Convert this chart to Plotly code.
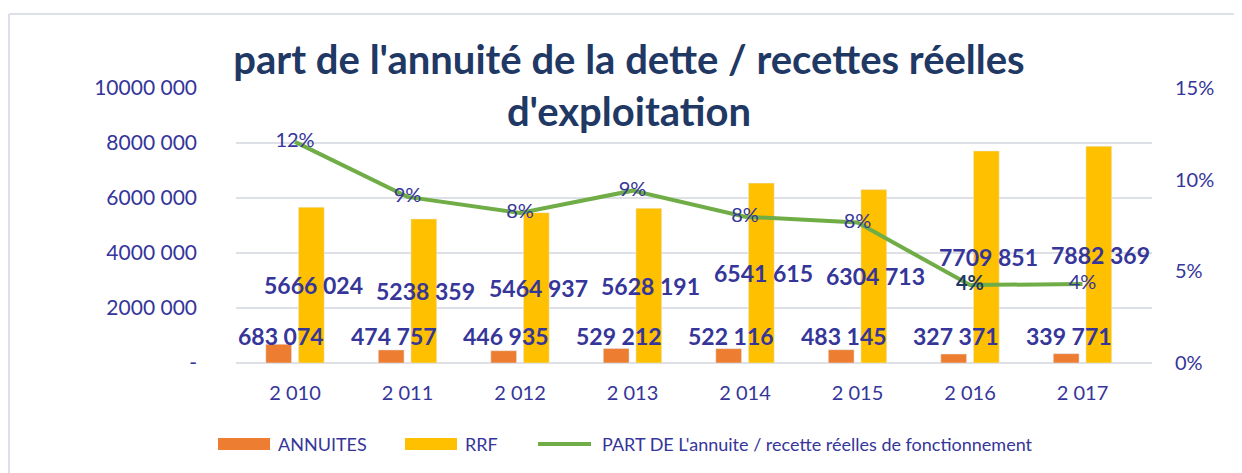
import plotly.graph_objects as go

years = ["2 010", "2 011", "2 012", "2 013", "2 014", "2 015", "2 016", "2 017"]
annuites = [683074, 474757, 446935, 529212, 522116, 483145, 327371, 339771]
rrf = [5666024, 5238359, 5464937, 5628191, 6541615, 6304713, 7709851, 7882369]
part = [0.1206, 0.0906, 0.0818, 0.0940, 0.0798, 0.0766, 0.0425, 0.0431]

left_tickvals = [0, 2000000, 4000000, 6000000, 8000000, 10000000]
left_ticktext = ["-", "2000 000", "4000 000", "6000 000", "8000 000", "10000 000"]
right_tickvals = [0, 0.05, 0.10, 0.15]
right_ticktext = ["0%", "5%", "10%", "15%"]

name_ann = "ANNUITES"
name_rrf = "RRF"
name_part = "PART DE L'annuite / recette réelles de fonctionnement"

FONT = "Lato"
TXT = "#35359a"
TITLE_C = "#1f3864"
C_ANN, C_RRF, C_LINE = "#ed7d31", "#ffc000", "#70ad47"
GRID = "#dde1e7"

OFF = 8  # page body margin
W, H = 1234, 465
ML, MT = 236 - OFF, 88 - OFF
PW, PH = 916, 275
MR = W - ML - PW
MB = H - MT - PH


def px(sx):
    return (sx - OFF - ML) / PW


def py(sy):
    return (MT + PH - (sy - OFF)) / PH


def fmt(v):
    s = f"{v:,}".replace(",", " ")
    parts = s.split(" ")
    if len(parts) > 2:
        s = "".join(parts[:-1]) + " " + parts[-1]
    return s


fig = go.Figure()
fig.add_trace(go.Bar(x=years, y=annuites, name=name_ann, marker_color=C_ANN, showlegend=False))
fig.add_trace(go.Bar(x=years, y=rrf, name=name_rrf, marker_color=C_RRF, showlegend=False))

pct_text = [f"{v:.0%}" for v in part]
pct_text_fmt = [("<b>" + t + "</b>") if i == 6 else t for i, t in enumerate(pct_text)]
pct_colors = [TITLE_C if i == 6 else TXT for i in range(len(part))]
fig.add_trace(go.Scatter(
    x=years, y=part, yaxis="y2", name=name_part, showlegend=False,
    mode="lines+text", line=dict(color=C_LINE, width=4),
    text=pct_text_fmt, textposition="middle center",
    textfont=dict(family=FONT, size=20, color=pct_colors),
))

annotations = []
for yr, a, r in zip(years, annuites, rrf):
    annotations.append(dict(x=yr, y=1000000, xref="x", yref="y", text="<b>" + fmt(a) + "</b>",
                            showarrow=False, xshift=-14,
                            font=dict(family=FONT, size=23, color=TXT)))
    annotations.append(dict(x=yr, y=r / 2, xref="x", yref="y", text="<b>" + fmt(r) + "</b>",
                            showarrow=False, xshift=18,
                            font=dict(family=FONT, size=23, color=TXT)))

# manual legend
leg_y = py(444)
for sx, txt in [(276, name_ann), (463, name_rrf), (600, name_part)]:
    annotations.append(dict(x=px(sx), y=leg_y, xref="paper", yref="paper", text=txt,
                            showarrow=False, xanchor="left", yanchor="middle",
                            font=dict(family=FONT, size=18, color=TXT)))

shapes = [
    dict(type="line", xref="paper", yref="paper",
         x0=px(9), x1=px(1260), y0=py(14), y1=py(14),
         line=dict(color=GRID, width=2), layer="below"),
    dict(type="line", xref="paper", yref="paper",
         x0=px(9), x1=px(9), y0=py(14), y1=py(500),
         line=dict(color=GRID, width=2), layer="below"),
    dict(type="rect", xref="paper", yref="paper", x0=px(218), x1=px(270),
         y0=py(450), y1=py(438), line=dict(width=0), fillcolor=C_ANN),
    dict(type="rect", xref="paper", yref="paper", x0=px(405), x1=px(457),
         y0=py(450), y1=py(438), line=dict(width=0), fillcolor=C_RRF),
    dict(type="line", xref="paper", yref="paper", x0=px(538), x1=px(591),
         y0=leg_y, y1=leg_y, line=dict(width=4, color=C_LINE)),
]

fig.update_layout(
    width=W, height=H,
    margin=dict(l=ML, r=MR, t=MT, b=MB),
    paper_bgcolor="white", plot_bgcolor="white",
    barmode="group", bargap=0.42, bargroupgap=0.21,
    title=dict(text="part de l'annuité de la dette / recettes réelles<br>d'exploitation",
               x=(629 - OFF) / W, xref="container", xanchor="center",
               y=1 - 66 / H, yref="container", yanchor="top",
               font=dict(family=FONT, size=40, color=TITLE_C, weight="bold")),
    font=dict(family=FONT, color=TXT),
    showlegend=False,
    xaxis=dict(type="category", showgrid=False, showline=False, ticks="",
               tickfont=dict(family=FONT, size=20, color=TXT), ticklabelstandoff=16),
    yaxis=dict(range=[0, 10000000], tickvals=left_tickvals, ticktext=left_ticktext,
               showgrid=True, gridcolor=GRID, gridwidth=1.5, zeroline=True,
               zerolinecolor=GRID, zerolinewidth=1.5, showline=False, ticks="",
               tickfont=dict(family=FONT, size=21, color=TXT), ticklabelstandoff=38),
    yaxis2=dict(range=[0, 0.15], tickvals=right_tickvals, ticktext=right_ticktext,
                overlaying="y", side="right", showgrid=False, zeroline=False, showline=False,
                ticks="", tickfont=dict(family=FONT, size=20, color=TXT), ticklabelstandoff=22),
    annotations=annotations,
    shapes=shapes,
)

fig.write_html("out.html")
